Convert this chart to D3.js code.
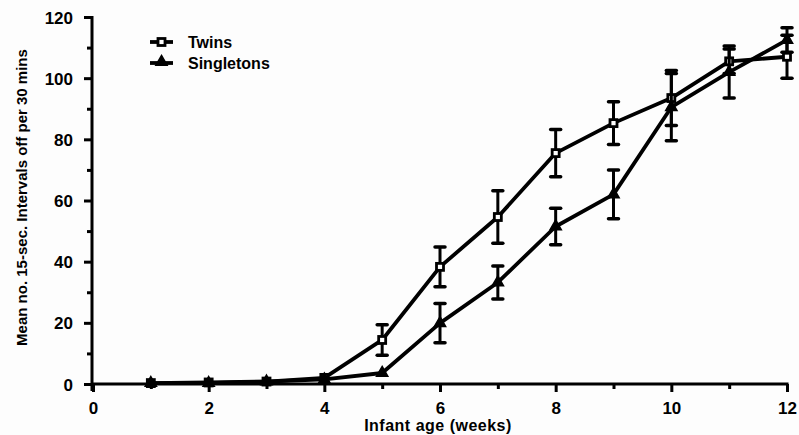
<!DOCTYPE html>
<html>
<head>
<meta charset="utf-8">
<script src="https://cdn.jsdelivr.net/npm/d3@7"></script>
<style>
  html, body { margin: 0; padding: 0; background: #fdfdfd; }
  svg { display: block; }
  text { font-family: "Liberation Sans", Arial, Helvetica, sans-serif; font-weight: bold; fill: #000; }
</style>
</head>
<body>
<svg id="chart" width="799" height="435"></svg>
<script>
const weeks = [1, 2, 3, 4, 5, 6, 7, 8, 9, 10, 11, 12];
const twins = [0.3, 0.5, 0.8, 2, 14.4, 38.3, 54.6, 75.5, 85.3, 93.5, 105.5, 107];
const twinsErr = [0, 0, 0, 0, 5, 6.5, 8.6, 7.7, 7, 9, 4, 7];
const singletons = [0.3, 0.3, 0.8, 1.5, 3.6, 19.9, 33.2, 51.5, 62, 90.5, 102, 112.5];
const singletonsErr = [0, 0, 0, 0, 0, 6.4, 5.4, 6, 8, 11, 8.5, 4];
const xTicks = [0, 2, 4, 6, 8, 10, 12];
const yTicks = [0, 20, 40, 60, 80, 100, 120];
const seriesNames = ["Twins", "Singletons"];
const xTitle = "Infant age (weeks)";
const yTitle = "Mean no. 15-sec. Intervals off per 30 mins";

const svg = d3.select("#chart");
const x = d3.scaleLinear().domain([0, 12]).range([93, 787]);
const y = d3.scaleLinear().domain([0, 120]).range([384, 17]);

// Axes
const xAxis = d3.axisBottom(x).tickValues(d3.range(0, 13, 1)).tickSize(0).tickFormat("");
const gx = svg.append("g").attr("transform", `translate(0,${y(0)})`).call(xAxis);
gx.select(".domain").attr("stroke", "#000").attr("stroke-width", 3).attr("d", `M${x(0) - 1},0H${x(12) + 1.5}`);
gx.selectAll(".tick line").remove();
gx.selectAll(".tick").append("line")
  .attr("y1", 0).attr("y2", d => d % 2 === 0 ? 8 : 5)
  .attr("stroke", "#000").attr("stroke-width", 3);
gx.selectAll(".tick").filter(d => xTicks.includes(d)).append("text")
  .attr("y", 30).attr("text-anchor", "middle")
  .style("font-size", "17px")
  .text(d => d);

const yAxis = d3.axisLeft(y).tickValues(d3.range(0, 121, 10)).tickSize(0).tickFormat("");
const gy = svg.append("g").attr("transform", `translate(${x(0) - 1},0)`).call(yAxis);
gy.select(".domain").attr("stroke", "#000").attr("stroke-width", 3).attr("d", `M0,${y(120) - 1}V${y(0) + 7}`);
gy.selectAll(".tick line").remove();
gy.selectAll(".tick").append("line")
  .attr("x1", 0).attr("x2", d => d % 20 === 0 ? -8 : -5)
  .attr("stroke", "#000").attr("stroke-width", 3);
gy.selectAll(".tick").filter(d => yTicks.includes(d)).append("text")
  .attr("x", -19).attr("dy", "0.36em").attr("text-anchor", "end")
  .style("font-size", "17px")
  .text(d => d);

// Axis titles
svg.append("text").attr("x", (x(0) + x(12)) / 2 - 2).attr("y", 431)
  .attr("text-anchor", "middle").style("font-size", "16px").style("letter-spacing", "0.5px").text(xTitle);
svg.append("text").attr("transform", `translate(27,${(y(0) + y(120)) / 2 - 3}) rotate(-90)`)
  .attr("text-anchor", "middle").style("font-size", "15px").text(yTitle);

// Series
const series = [
  { name: seriesNames[0], vals: twins, err: twinsErr, marker: "square" },
  { name: seriesNames[1], vals: singletons, err: singletonsErr, marker: "triangle" }
];
const line = d3.line().x(d => x(d[0])).y(d => y(d[1]));

series.forEach(s => {
  const pts = weeks.map((w, i) => [w, s.vals[i], s.err[i]]);
  const g = svg.append("g");
  g.append("path").datum(pts).attr("d", line)
    .attr("fill", "none").attr("stroke", "#000").attr("stroke-width", 3.8).attr("stroke-linejoin", "round");
  // error bars
  const eb = g.selectAll(".eb").data(pts.filter(p => p[2] > 0)).enter().append("g");
  eb.append("line").attr("x1", d => x(d[0])).attr("x2", d => x(d[0]))
    .attr("y1", d => y(d[1] - d[2])).attr("y2", d => y(d[1] + d[2]))
    .attr("stroke", "#000").attr("stroke-width", 3);
  [1, -1].forEach(sg => {
    eb.append("line").attr("x1", d => x(d[0]) - 5).attr("x2", d => x(d[0]) + 5)
      .attr("y1", d => y(d[1] + sg * d[2])).attr("y2", d => y(d[1] + sg * d[2]))
      .attr("stroke", "#000").attr("stroke-width", 3.5).attr("stroke-linecap", "round");
  });
  // markers
  if (s.marker === "square") {
    g.selectAll(".m").data(pts).enter().append("rect")
      .attr("x", d => x(d[0]) - 3.5).attr("y", d => y(d[1]) - 3.5)
      .attr("width", 7).attr("height", 7)
      .attr("fill", "#fff").attr("stroke", "#000").attr("stroke-width", 2.8);
  } else {
    const tri = d3.symbol().type(d3.symbolTriangle).size(55);
    g.selectAll(".m").data(pts).enter().append("path")
      .attr("transform", d => `translate(${x(d[0])},${y(d[1])})`)
      .attr("d", tri).attr("fill", "#000").attr("stroke", "#000").attr("stroke-width", 1.5);
  }
});

// Legend
const legend = svg.append("g");
series.forEach((s, i) => {
  const cy = 42 + i * 21;
  legend.append("line").attr("x1", 150).attr("x2", 173).attr("y1", cy).attr("y2", cy)
    .attr("stroke", "#000").attr("stroke-width", 3.8);
  if (s.marker === "square") {
    legend.append("rect").attr("x", 158).attr("y", cy - 3.5).attr("width", 7).attr("height", 7)
      .attr("fill", "#fff").attr("stroke", "#000").attr("stroke-width", 2.8);
  } else {
    legend.append("path").attr("transform", `translate(161.5,${cy - 1})`)
      .attr("d", d3.symbol().type(d3.symbolTriangle).size(55)).attr("fill", "#000")
      .attr("stroke", "#000").attr("stroke-width", 1.5);
  }
  legend.append("text").attr("x", 188).attr("y", cy).attr("dy", "0.36em")
    .style("font-size", "16px").text(s.name);
});
</script>
</body>
</html>
